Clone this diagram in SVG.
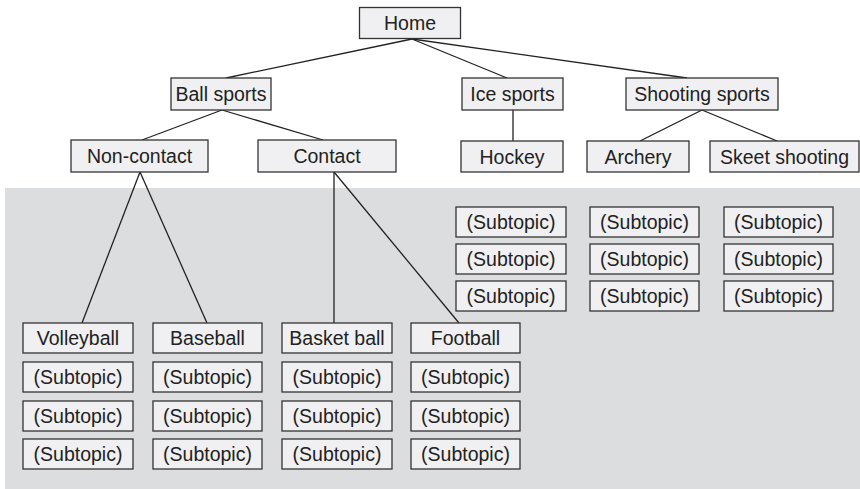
<svg xmlns="http://www.w3.org/2000/svg" width="860" height="489" viewBox="0 0 860 489">
  <style>
    .box rect { fill: #f0f0f2; stroke: #333; stroke-width: 1.3; }
    .box text { font-family: "Liberation Sans", Arial, sans-serif; font-size: 19.5px; fill: #222; text-anchor: middle; }
    .links line { stroke: #222; stroke-width: 1.3; }
  </style>
  <!-- shaded lower panel -->
  <rect x="5" y="188" width="855" height="301" fill="#dcdddf"/>

  <g class="links">
    <line x1="412" y1="39" x2="226" y2="78"/>
    <line x1="412" y1="39" x2="507" y2="78"/>
    <line x1="412" y1="39" x2="687" y2="78"/>
    <line x1="513" y1="110" x2="513" y2="141"/>
    <line x1="702" y1="110" x2="640" y2="141"/>
    <line x1="702" y1="110" x2="777" y2="141"/>
    <line x1="222" y1="110" x2="142" y2="140"/>
    <line x1="222" y1="110" x2="323" y2="140"/>
    <line x1="140" y1="172" x2="82" y2="323"/>
    <line x1="140" y1="172" x2="207" y2="323"/>
    <line x1="334" y1="172" x2="334" y2="323"/>
    <line x1="334" y1="172" x2="459" y2="323"/>
  </g>

  <g id="home" class="box"><rect x="359.5" y="7.5" width="101" height="31"/><text x="410" y="30">Home</text></g>
  <g id="ball-sports" class="box"><rect x="171" y="78" width="100" height="32"/><text x="221" y="101">Ball sports</text></g>
  <g id="ice-sports" class="box"><rect x="462" y="78" width="101" height="32"/><text x="512.5" y="101">Ice sports</text></g>
  <g id="shooting-sports" class="box"><rect x="626" y="78" width="152" height="32"/><text x="702" y="101">Shooting sports</text></g>
  <g id="non-contact" class="box"><rect x="71" y="140" width="137" height="32"/><text x="139.5" y="163">Non-contact</text></g>
  <g id="contact" class="box"><rect x="258" y="140" width="138" height="32"/><text x="327" y="163">Contact</text></g>
  <g id="hockey" class="box"><rect x="461" y="141" width="102" height="31"/><text x="512" y="163.5">Hockey</text></g>
  <g id="archery" class="box"><rect x="587" y="141" width="102" height="31"/><text x="638" y="163.5">Archery</text></g>
  <g id="skeet-shooting" class="box"><rect x="710" y="141" width="149" height="31"/><text x="784.5" y="163.5">Skeet shooting</text></g>

  <!-- ice and shooting subtopics -->
  <g id="hockey-sub-1" class="box"><rect x="456" y="207" width="110" height="30"/><text x="511" y="229">(Subtopic)</text></g>
  <g id="hockey-sub-2" class="box"><rect x="456" y="244" width="110" height="30"/><text x="511" y="266">(Subtopic)</text></g>
  <g id="hockey-sub-3" class="box"><rect x="456" y="281" width="110" height="30"/><text x="511" y="303">(Subtopic)</text></g>
  <g id="archery-sub-1" class="box"><rect x="590" y="207" width="109" height="30"/><text x="644.5" y="229">(Subtopic)</text></g>
  <g id="archery-sub-2" class="box"><rect x="590" y="244" width="109" height="30"/><text x="644.5" y="266">(Subtopic)</text></g>
  <g id="archery-sub-3" class="box"><rect x="590" y="281" width="109" height="30"/><text x="644.5" y="303">(Subtopic)</text></g>
  <g id="skeet-sub-1" class="box"><rect x="724" y="207" width="109" height="30"/><text x="778.5" y="229">(Subtopic)</text></g>
  <g id="skeet-sub-2" class="box"><rect x="724" y="244" width="109" height="30"/><text x="778.5" y="266">(Subtopic)</text></g>
  <g id="skeet-sub-3" class="box"><rect x="724" y="281" width="109" height="30"/><text x="778.5" y="303">(Subtopic)</text></g>

  <!-- ball sports leaves -->
  <g id="volleyball" class="box"><rect x="23" y="323" width="110" height="30"/><text x="78" y="345">Volleyball</text></g>
  <g id="volleyball-sub-1" class="box"><rect x="23" y="362" width="110" height="30"/><text x="78" y="384">(Subtopic)</text></g>
  <g id="volleyball-sub-2" class="box"><rect x="23" y="401" width="110" height="30"/><text x="78" y="423">(Subtopic)</text></g>
  <g id="volleyball-sub-3" class="box"><rect x="23" y="439" width="110" height="30"/><text x="78" y="461">(Subtopic)</text></g>

  <g id="baseball" class="box"><rect x="153" y="323" width="109" height="30"/><text x="207.5" y="345">Baseball</text></g>
  <g id="baseball-sub-1" class="box"><rect x="153" y="362" width="109" height="30"/><text x="207.5" y="384">(Subtopic)</text></g>
  <g id="baseball-sub-2" class="box"><rect x="153" y="401" width="109" height="30"/><text x="207.5" y="423">(Subtopic)</text></g>
  <g id="baseball-sub-3" class="box"><rect x="153" y="439" width="109" height="30"/><text x="207.5" y="461">(Subtopic)</text></g>

  <g id="basketball" class="box"><rect x="282" y="323" width="110" height="30"/><text x="337" y="345">Basket ball</text></g>
  <g id="basketball-sub-1" class="box"><rect x="282" y="362" width="110" height="30"/><text x="337" y="384">(Subtopic)</text></g>
  <g id="basketball-sub-2" class="box"><rect x="282" y="401" width="110" height="30"/><text x="337" y="423">(Subtopic)</text></g>
  <g id="basketball-sub-3" class="box"><rect x="282" y="439" width="110" height="30"/><text x="337" y="461">(Subtopic)</text></g>

  <g id="football" class="box"><rect x="411" y="323" width="109" height="30"/><text x="465.5" y="345">Football</text></g>
  <g id="football-sub-1" class="box"><rect x="411" y="362" width="109" height="30"/><text x="465.5" y="384">(Subtopic)</text></g>
  <g id="football-sub-2" class="box"><rect x="411" y="401" width="109" height="30"/><text x="465.5" y="423">(Subtopic)</text></g>
  <g id="football-sub-3" class="box"><rect x="411" y="439" width="109" height="30"/><text x="465.5" y="461">(Subtopic)</text></g>
</svg>
